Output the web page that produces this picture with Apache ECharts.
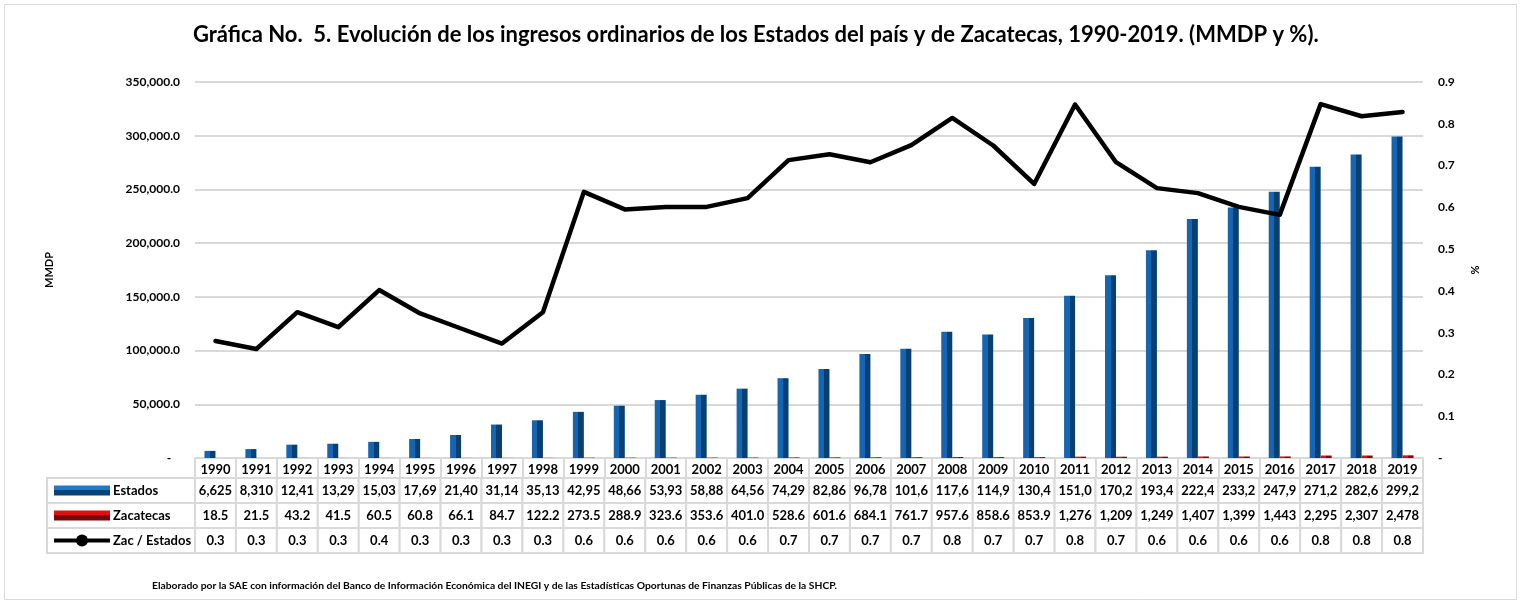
<!DOCTYPE html>
<html>
<head>
<meta charset="utf-8">
<script src="https://cdn.jsdelivr.net/npm/echarts@6/dist/echarts.min.js"></script>
<style>
  html, body { margin: 0; padding: 0; background: #fff; }
  #chart { width: 1523px; height: 605px; }
</style>
</head>
<body>
<div id="chart"></div>
<script>
// datos (MMDP y %)
const years = ["1990","1991","1992","1993","1994","1995","1996","1997","1998","1999",
  "2000","2001","2002","2003","2004","2005","2006","2007","2008","2009",
  "2010","2011","2012","2013","2014","2015","2016","2017","2018","2019"];
const estados = [6625, 8310, 12410, 13290, 15030, 17690, 21400, 31140, 35130, 42950,
  48660, 53930, 58880, 64560, 74290, 82860, 96780, 101600, 117600, 114900,
  130400, 151000, 170200, 193400, 222400, 233200, 247900, 271200, 282600, 299200];
const zacatecas = [18.5, 21.5, 43.2, 41.5, 60.5, 60.8, 66.1, 84.7, 122.2, 273.5,
  288.9, 323.6, 353.6, 401.0, 528.6, 601.6, 684.1, 761.7, 957.6, 858.6,
  853.9, 1276, 1209, 1249, 1407, 1399, 1443, 2295, 2307, 2478];
const zacEstados = [0.280, 0.261, 0.349, 0.313, 0.402, 0.346, 0.310, 0.274, 0.349, 0.637,
  0.595, 0.601, 0.601, 0.622, 0.713, 0.727, 0.708, 0.749, 0.814, 0.748,
  0.656, 0.846, 0.708, 0.646, 0.634, 0.601, 0.582, 0.847, 0.818, 0.828];
const rowNames = ["Estados", "Zacatecas", "Zac / Estados"];

const FONT = "Lato, 'Noto Sans', sans-serif";

const fmt1 = (v) => v.toLocaleString("en-US", { minimumFractionDigits: 1, maximumFractionDigits: 1 });

// texto de las celdas de la tabla (Excel recorta las celdas angostas)
const cellText = [
  estados.map((v) => fmt1(v).slice(0, 5)),
  zacatecas.map((v) => fmt1(v).slice(0, 5)),
  zacEstados.map((v) => v.toFixed(1)),
];

const tableData = [];
rowNames.forEach((_, r) => {
  years.forEach((_, i) => tableData.push([i, r]));
});

const blueBar = new echarts.graphic.LinearGradient(0, 0, 1, 0, [
  { offset: 0, color: "#1466b2" },
  { offset: 0.5, color: "#1466b2" },
  { offset: 0.5, color: "#0b406e" },
  { offset: 1, color: "#0b406e" },
]);
const redBar = new echarts.graphic.LinearGradient(0, 0, 1, 0, [
  { offset: 0, color: "#d41414" },
  { offset: 0.5, color: "#d41414" },
  { offset: 0.5, color: "#7c0a0a" },
  { offset: 1, color: "#7c0a0a" },
]);

const HEAD_W = 148;

function legendKey(r, x, y) {
  if (r === 0 || r === 1) {
    const top = r === 0 ? "#2179c8" : "#e01010";
    const bot = r === 0 ? "#0b4274" : "#760808";
    return {
      type: "rect",
      shape: { x: x, y: y - 5, width: 56, height: 10 },
      style: {
        fill: new echarts.graphic.LinearGradient(0, 0, 0, 1, [
          { offset: 0, color: top },
          { offset: 0.5, color: top },
          { offset: 0.5, color: bot },
          { offset: 1, color: bot },
        ]),
      },
    };
  }
  return {
    type: "group",
    children: [
      { type: "line", shape: { x1: x, y1: y, x2: x + 56, y2: y }, style: { stroke: "#000", lineWidth: 4 } },
      { type: "circle", shape: { cx: x + 28, cy: y, r: 6 }, style: { fill: "#000" } },
    ],
  };
}

function renderCell(params, api) {
  const i = api.value(0);
  const r = api.value(1);
  const c = api.coord([i, r]);
  const sz = api.size([1, 1]);
  const w = sz[0], h = sz[1];
  const children = [
    {
      type: "rect",
      shape: { x: c[0] - w / 2, y: c[1] - h / 2, width: w, height: h },
      style: { fill: "#fff", stroke: "#d9d9d9", lineWidth: 2 },
    },
    {
      type: "text",
      style: {
        text: cellText[r][i], x: c[0], y: c[1],
        align: "center", verticalAlign: "middle",
        font: "bold 13px " + FONT, fill: "#000",
      },
    },
  ];
  if (i === 0) {
    const left = c[0] - w / 2 - HEAD_W;
    children.push(
      {
        type: "rect",
        shape: { x: left, y: c[1] - h / 2, width: HEAD_W, height: h },
        style: { fill: "#fff", stroke: "#d9d9d9", lineWidth: 2 },
      },
      legendKey(r, left + 7, c[1]),
      {
        type: "text",
        style: {
          text: rowNames[r], x: left + 66, y: c[1],
          align: "left", verticalAlign: "middle",
          font: "bold 13px " + FONT, fill: "#000",
        },
      }
    );
  }
  return { type: "group", children: children };
}

const chart = echarts.init(document.getElementById("chart"));

chart.setOption({
  animation: false,
  backgroundColor: "#fff",
  textStyle: { fontFamily: FONT },
  title: [
    {
      text: "Gráfica No.  5. Evolución de los ingresos ordinarios de los Estados del país y de Zacatecas, 1990-2019. (MMDP y %).",
      left: 188,
      top: 19,
      textStyle: { fontSize: 22, fontWeight: "bold", color: "#000", fontFamily: FONT },
    },
    {
      text: "Elaborado por la SAE con información del Banco de Información Económica del INEGI y de las Estadísticas Oportunas de Finanzas Públicas de la SHCP.",
      left: 147,
      top: 576,
      textStyle: { fontSize: 10.3, fontWeight: "bold", color: "#000", fontFamily: FONT },
    },
  ],
  legend: { show: false },
  graphic: [
    {
      type: "rect",
      silent: true,
      shape: { x: 4.5, y: 4.5, width: 1512, height: 595 },
      style: { fill: "none", stroke: "#d9d9d9", lineWidth: 1 },
    },
  ],
  grid: [
    { left: 195, right: 100, top: 82, bottom: 147 },
    { left: 195, right: 100, top: 478, height: 75 },
  ],
  xAxis: [
    {
      type: "category",
      data: years,
      gridIndex: 0,
      axisLine: { lineStyle: { color: "#d9d9d9", width: 2 } },
      axisTick: { show: true, length: 20, interval: 0, lineStyle: { color: "#d9d9d9", width: 2 } },
      axisLabel: { interval: 0, margin: 5, color: "#000", fontWeight: "bold", fontSize: 13, fontFamily: FONT },
    },
    { type: "category", data: years, gridIndex: 1, show: false },
  ],
  yAxis: [
    {
      type: "value",
      gridIndex: 0,
      min: 0,
      max: 350000,
      interval: 50000,
      name: "MMDP",
      nameLocation: "middle",
      nameGap: 140,
      nameTextStyle: { color: "#000", fontWeight: "bold", fontSize: 11, fontFamily: FONT },
      axisLine: { show: false },
      axisTick: { show: false },
      axisLabel: {
        margin: 15,
        color: "#000",
        fontWeight: "bold",
        fontSize: 12,
        fontFamily: FONT,
        formatter: (v) => (v === 0 ? "-   " : fmt1(v)),
      },
      splitLine: { lineStyle: { color: "#d9d9d9", width: 2 } },
    },
    {
      type: "value",
      gridIndex: 0,
      position: "right",
      min: 0,
      max: 0.9,
      interval: 0.1,
      name: "%",
      nameLocation: "middle",
      nameGap: 46,
      nameRotate: -90,
      nameTextStyle: { color: "#000", fontWeight: "bold", fontSize: 11, fontFamily: FONT },
      axisLine: { show: false },
      axisTick: { show: false },
      splitLine: { show: false },
      axisLabel: {
        margin: 15,
        color: "#000",
        fontWeight: "bold",
        fontSize: 12,
        fontFamily: FONT,
        formatter: (v) => (v === 0 ? "-" : v.toFixed(1)),
      },
    },
    { type: "category", data: rowNames, gridIndex: 1, inverse: true, show: false },
  ],
  series: [
    {
      name: "Estados",
      type: "bar",
      xAxisIndex: 0,
      yAxisIndex: 0,
      barWidth: 11,
      barGap: "0%",
      itemStyle: { color: blueBar },
      data: estados,
    },
    {
      name: "Zacatecas",
      type: "bar",
      xAxisIndex: 0,
      yAxisIndex: 0,
      barWidth: 11,
      barGap: "0%",
      itemStyle: { color: redBar },
      data: zacatecas,
    },
    {
      name: "Zac / Estados",
      type: "line",
      xAxisIndex: 0,
      yAxisIndex: 1,
      symbol: "none",
      lineStyle: { color: "#000", width: 4.5, join: "round", cap: "round" },
      data: zacEstados,
      z: 5,
    },
    {
      name: "tabla",
      type: "custom",
      xAxisIndex: 1,
      yAxisIndex: 2,
      silent: true,
      renderItem: renderCell,
      data: tableData,
    },
  ],
});
</script>
</body>
</html>
